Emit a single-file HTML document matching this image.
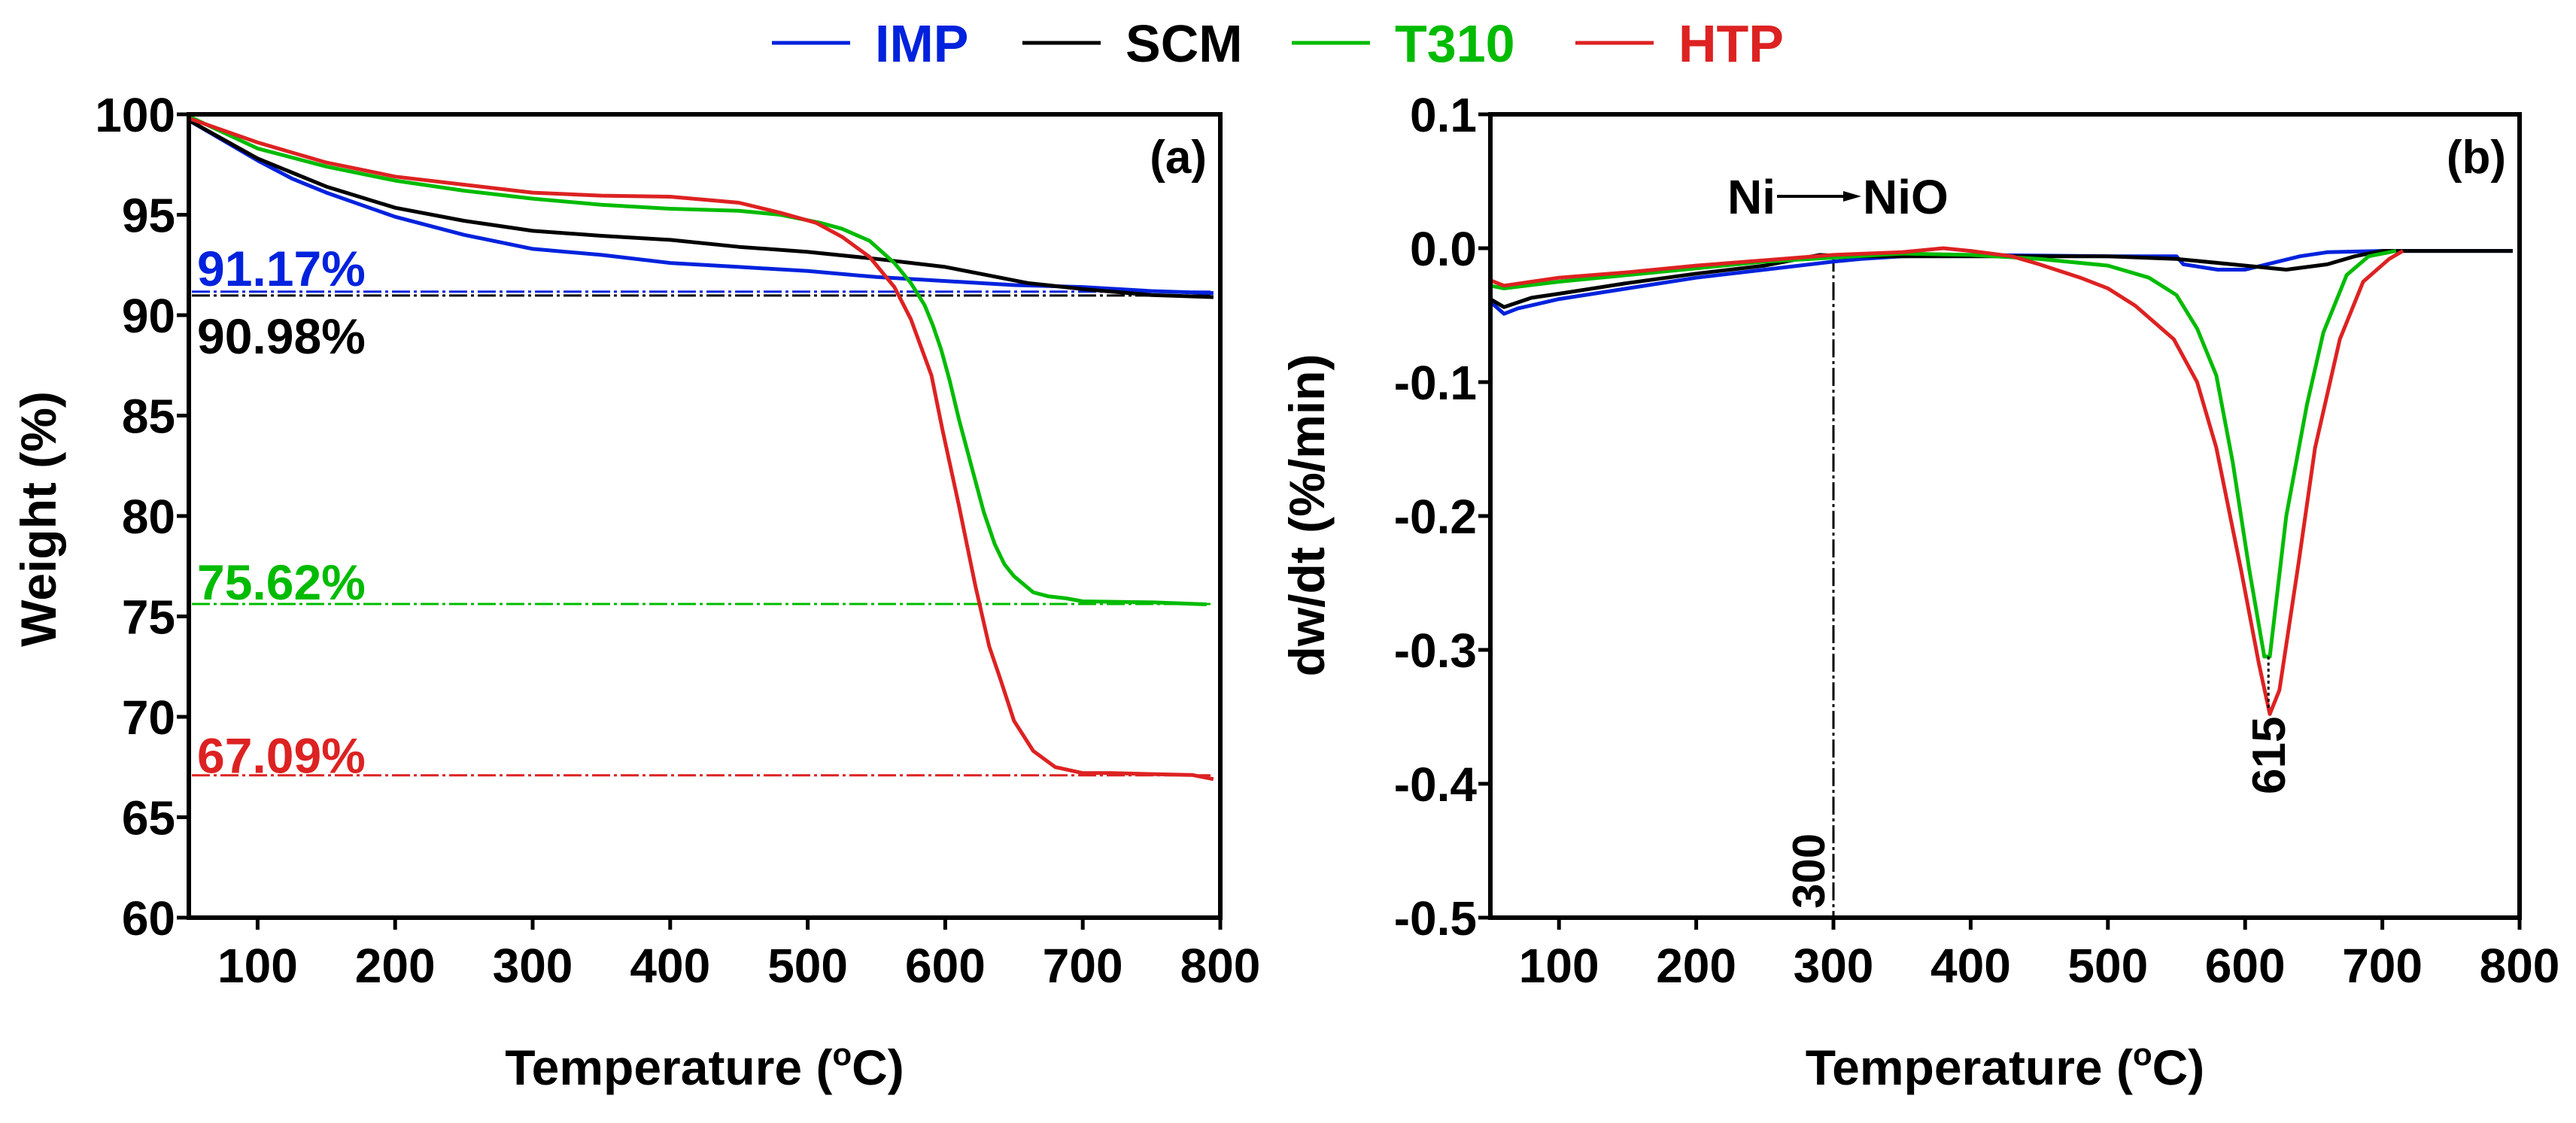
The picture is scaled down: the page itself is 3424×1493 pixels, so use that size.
<!DOCTYPE html>
<html><head><meta charset="utf-8"><style>
html,body{margin:0;padding:0;background:#fff;}
svg{display:block;font-family:"Liberation Sans",Arial,sans-serif;font-weight:bold;}
</style></head><body>
<svg id="chart" width="3424" height="1493" viewBox="0 0 3424 1493" xmlns="http://www.w3.org/2000/svg">
<g id="legend"></g>
<g id="pa"></g>
<g id="pb"></g>
</svg>
<script>
// ---------- data ----------
const seriesNames = ["IMP","SCM","T310","HTP"];
const seriesColors = ["#0022dd","#000000","#00bb00","#dd2222"];
const xTicks = [100,200,300,400,500,600,700,800];
const yTicksA = [60,65,70,75,80,85,90,95,100];
const yTicksB = [-0.5,-0.4,-0.3,-0.2,-0.1,0.0,0.1];
const yTickLabelsB = ["-0.5","-0.4","-0.3","-0.2","-0.1","0.0","0.1"];

const tgaImpT = [50,75,100,125,150,175,200,250,300,350,400,450,500,550,600,650,700,750,795];
const tgaImpW = [99.7,98.7,97.7,96.8,96.1,95.5,94.9,94.0,93.3,93.0,92.6,92.4,92.2,91.9,91.7,91.5,91.4,91.2,91.1];
const tgaScmT = [50,100,150,200,250,300,350,400,450,500,550,600,630,660,700,750,795];
const tgaScmW = [99.7,97.8,96.4,95.35,94.7,94.2,93.95,93.75,93.4,93.15,92.8,92.4,92.0,91.6,91.3,91.0,90.9];
const tgaT310T = [50,100,150,200,250,300,350,400,450,480,509,525,545,563,575,585,591,597,603,610,619,628,636,643,650,657,664,675,688,700,750,790];
const tgaT310W = [99.9,98.3,97.4,96.7,96.2,95.8,95.5,95.3,95.2,95.0,94.6,94.3,93.7,92.6,91.6,90.5,89.5,88.3,86.8,84.8,82.5,80.2,78.6,77.6,77.0,76.6,76.2,76.0,75.9,75.75,75.7,75.6];
const tgaHtpT = [50,100,150,200,250,300,350,400,450,480,506,525,545,563,575,590,598,610,622,632,640,650,664,680,700,720,780,795];
const tgaHtpW = [99.8,98.6,97.6,96.9,96.5,96.1,95.95,95.9,95.6,95.1,94.6,93.9,92.9,91.4,89.8,87.0,84.3,80.5,76.5,73.5,71.9,69.8,68.3,67.5,67.2,67.2,67.1,66.9];
const residues = [91.17,90.98,75.62,67.09];
const residueLabels = ["91.17%","90.98%","75.62%","67.09%"];

const dtgImpT = [50,60,70,100,150,200,250,300,320,350,400,500,550,555,580,600,620,640,660,700,795];
const dtgImpV = [-0.04,-0.049,-0.045,-0.038,-0.03,-0.022,-0.016,-0.01,-0.008,-0.006,-0.005,-0.006,-0.006,-0.012,-0.016,-0.016,-0.011,-0.006,-0.003,-0.002,-0.002];
const dtgScmT = [50,60,80,100,150,200,250,290,310,400,500,550,600,630,660,680,700,795];
const dtgScmV = [-0.038,-0.044,-0.037,-0.034,-0.026,-0.019,-0.013,-0.005,-0.006,-0.006,-0.006,-0.008,-0.013,-0.016,-0.012,-0.006,-0.002,-0.002];
const dtgT310T = [50,60,100,150,200,250,300,350,400,450,500,530,550,565,579,591,603,614,618,630,645,657,674,690,710];
const dtgT310V = [-0.028,-0.03,-0.025,-0.02,-0.015,-0.01,-0.007,-0.004,-0.005,-0.008,-0.013,-0.022,-0.035,-0.06,-0.095,-0.16,-0.24,-0.305,-0.305,-0.2,-0.117,-0.063,-0.02,-0.006,-0.002];
const dtgHtpT = [50,60,100,150,200,250,300,350,380,400,430,450,480,500,520,548,565,579,597,610,618,625,639,651,669,686,705,715];
const dtgHtpV = [-0.024,-0.028,-0.022,-0.018,-0.013,-0.009,-0.005,-0.003,0.0,-0.002,-0.006,-0.012,-0.022,-0.03,-0.043,-0.068,-0.1,-0.149,-0.24,-0.31,-0.348,-0.33,-0.235,-0.149,-0.068,-0.025,-0.008,-0.002];
const markerT = [300,617];
const markerLabels = ["300","615"];

// ---------- helpers ----------
const NS="http://www.w3.org/2000/svg";
function mk(tag,attrs,parent,text){const e=document.createElementNS(NS,tag);for(const k in attrs)e.setAttribute(k,attrs[k]);if(text!==undefined)e.textContent=text;parent.appendChild(e);return e;}
const A={x0:251,x1:1622,y0:152,y1:1220,tmin:50,tmax:800,vmin:60,vmax:100};
const B={x0:1981,x1:3349,y0:152,y1:1220,tmin:50,tmax:800,vmin:-0.5,vmax:0.1};
function sx(p,t){return p.x0+(t-p.tmin)/(p.tmax-p.tmin)*(p.x1-p.x0);}
function sy(p,v){return p.y1-(v-p.vmin)/(p.vmax-p.vmin)*(p.y1-p.y0);}

function axes(p,g,yTicks,yLabels,panelLabel){
  xTicks.forEach(t=>{const x=sx(p,t);
    const l=mk("line",{x1:x,y1:p.y1,x2:x,y2:p.y1+16,stroke:"#000","stroke-width":5},g);
    
    
    const tx=mk("text",{x:x,y:1306,"font-size":64,"text-anchor":"middle"},g,String(t));
    
    });
  yTicks.forEach((v,i)=>{const y=sy(p,v);
    const l=mk("line",{x1:p.x0-16,y1:y,x2:p.x0,y2:y,stroke:"#000","stroke-width":5},g);
    
    
    const tx=mk("text",{x:p.x0-18,y:y+23,"font-size":64,"text-anchor":"end"},g,yLabels[i]);
    
    });
  const xt=mk("text",{x:(p.x0+p.x1)/2,y:1442,"font-size":66,"text-anchor":"middle"},g);
  
  
  xt.appendChild(document.createTextNode("Temperature ("));
  mk("tspan",{"font-size":42,dy:-26},xt,"o");
  mk("tspan",{dy:26},xt,"C)");
  const pl=mk("text",{x:p.x1-18,y:230,"font-size":62,"text-anchor":"end"},g,panelLabel);
  
  
}
function frame(p,g){
  const r=mk("rect",{x:p.x0,y:p.y0,width:p.x1-p.x0,height:p.y1-p.y0,fill:"none",stroke:"#000","stroke-width":6},g);
  
  
}
function curve(p,g,T,V,color,name){
  const pts=T.map((t,i)=>sx(p,t).toFixed(1)+","+sy(p,V[i]).toFixed(1)).join(" ");
  const e=mk("polyline",{points:pts,fill:"none",stroke:color,"stroke-width":5,"stroke-linejoin":"round"},g);
  
  
}

// legend
const lg=document.getElementById("legend");
const legX=[1026,1359,1717,2094];
seriesNames.forEach((n,i)=>{
  const l=mk("line",{x1:legX[i],y1:57,x2:legX[i]+104,y2:57,stroke:seriesColors[i],"stroke-width":5},lg);
  
  
  const t=mk("text",{x:legX[i]+137,y:82,"font-size":70,fill:seriesColors[i]},lg,n);
  
  
});

// panel a
const ga=document.getElementById("pa");
axes(A,ga,yTicksA,yTicksA.map(String),"(a)");
const yta=mk("text",{x:0,y:0,"font-size":66,"text-anchor":"middle",transform:"translate(74,690) rotate(-90)"},ga,"Weight (%)");


const resOff=[-8,77,-6,-3];
residues.forEach((r,i)=>{
  const y=sy(A,r);
  const l=mk("line",{x1:A.x0+4,y1:y,x2:A.x1-8,y2:y,stroke:seriesColors[i],"stroke-width":3,"stroke-dasharray":"24,5,4,5"},ga);
  
  
  const t=mk("text",{x:262,y:y+resOff[i],"font-size":66,fill:seriesColors[i]},ga,residueLabels[i]);
  
  
});
curve(A,ga,tgaImpT,tgaImpW,seriesColors[0],'tga-imp');
curve(A,ga,tgaScmT,tgaScmW,seriesColors[1],'tga-scm');
curve(A,ga,tgaT310T,tgaT310W,seriesColors[2],'tga-t310');
curve(A,ga,tgaHtpT,tgaHtpW,seriesColors[3],'tga-htp');
frame(A,ga);

// panel b
const gb=document.getElementById("pb");
axes(B,gb,yTicksB,yTickLabelsB,"(b)");
const ytb=mk("text",{x:0,y:0,"font-size":66,"text-anchor":"middle",transform:"translate(1760,685) rotate(-90)"},gb,"dw/dt (%/min)");


const vx=sx(B,markerT[0]);
const vl=mk("line",{x1:vx,y1:sy(B,-0.004),x2:vx,y2:B.y1,stroke:"#000","stroke-width":3,"stroke-dasharray":"24,5,4,5"},gb);


const vt=mk("text",{x:0,y:0,"font-size":60,transform:"translate("+(vx-12)+",1208) rotate(-90)"},gb,markerLabels[0]);


curve(B,gb,dtgImpT,dtgImpV,seriesColors[0],'dtg-imp');
curve(B,gb,dtgScmT,dtgScmV,seriesColors[1],'dtg-scm');
curve(B,gb,dtgT310T,dtgT310V,seriesColors[2],'dtg-t310');
curve(B,gb,dtgHtpT,dtgHtpV,seriesColors[3],'dtg-htp');
const px=sx(B,markerT[1]);
const pdl=mk("line",{x1:px,y1:sy(B,-0.305),x2:px,y2:sy(B,-0.345),stroke:"#000","stroke-width":3,"stroke-dasharray":"4,4"},gb);


const pt=mk("text",{x:0,y:0,"font-size":62,transform:"translate("+(px+22)+",1056) rotate(-90)"},gb,markerLabels[1]);


const n1=mk("text",{x:2296,y:284,"font-size":64},gb,"Ni");


const ar=mk("line",{x1:2362,y1:261,x2:2462,y2:261,stroke:"#000","stroke-width":4},gb);


const ah=mk("polygon",{points:"2474,261 2450,254 2450,268",fill:"#000"},gb);


const n2=mk("text",{x:2476,y:284,"font-size":64},gb,"NiO");


frame(B,gb);
</script>
</body></html>
